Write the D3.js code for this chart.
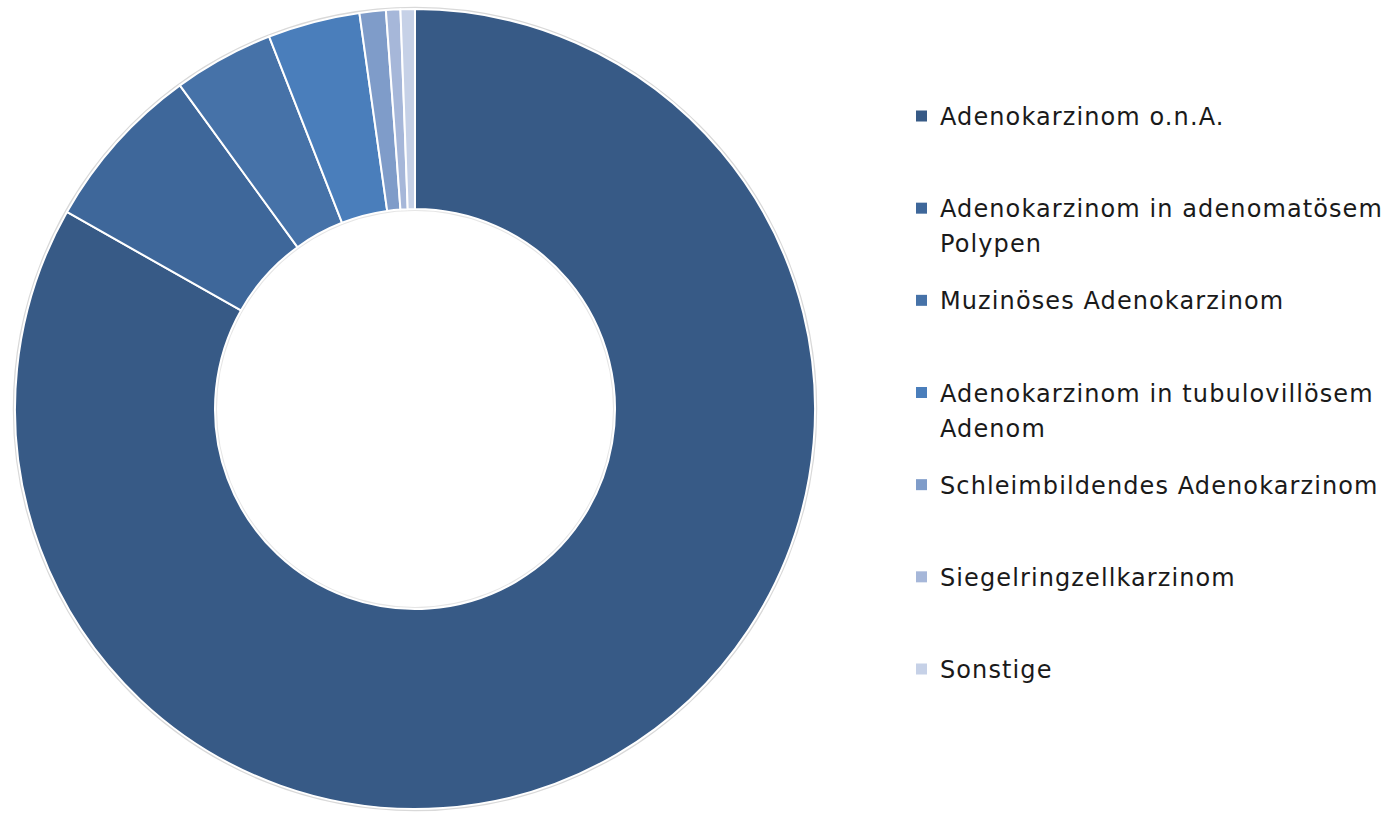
<!DOCTYPE html>
<html>
<head>
<meta charset="utf-8">
<script src="https://cdn.jsdelivr.net/npm/d3@7"></script>
<style>
  body { margin: 0; background: #fff; }
  svg { display: block; }
  .legend text { font-family: 'DejaVu Sans', sans-serif; font-size: 24px; letter-spacing: 1.1px; fill: #1a1a1a; }
</style>
</head>
<body>
<svg id="chart" width="1388" height="813"></svg>
<script>
// chart data (share in %)
const categories = [
    'Adenokarzinom o.n.A.',
    'Adenokarzinom in adenomatösem Polypen',
    'Muzinöses Adenokarzinom',
    'Adenokarzinom in tubulovillösem Adenom',
    'Schleimbildendes Adenokarzinom',
    'Siegelringzellkarzinom',
    'Sonstige'
];
const values = [83.2, 6.8, 4.06, 3.72, 1.06, 0.58, 0.58];
// legend labels as they wrap in the original
const legendLines = [
    ['Adenokarzinom o.n.A.'],
    ['Adenokarzinom in adenomatösem', 'Polypen'],
    ['Muzinöses Adenokarzinom'],
    ['Adenokarzinom in tubulovillösem', 'Adenom'],
    ['Schleimbildendes Adenokarzinom'],
    ['Siegelringzellkarzinom'],
    ['Sonstige']
];
const colors = ['#375a86', '#3e679a', '#4672a8', '#4a7ebb', '#7f9cc9', '#a6b7d9', '#c6d1e7'];

const svg = d3.select('#chart');

const cx = 415, cy = 409;
const outerR = 400, innerR = 200;

const color = d3.scaleOrdinal()
    .domain(categories)
    .range(colors);

const pie = d3.pie()
    .sort(null)
    .value(d => d.value);

const arc = d3.arc()
    .innerRadius(innerR)
    .outerRadius(outerR);

const data = categories.map((c, i) => ({name: c, value: values[i]}));

const group = svg.append('g')
    .attr('transform', 'translate(' + cx + ',' + cy + ')');

// soft edge round the ring
group.append('circle')
    .attr('r', outerR + 1)
    .attr('fill', 'none')
    .attr('stroke', '#d9d9d9')
    .attr('stroke-width', 2.5);
group.append('circle')
    .attr('r', innerR - 1)
    .attr('fill', 'none')
    .attr('stroke', '#e6e6e6')
    .attr('stroke-width', 2);

group.selectAll('path.slice')
    .data(pie(data))
    .enter()
    .append('path')
    .attr('class', 'slice')
    .attr('d', arc)
    .attr('fill', d => color(d.data.name))
    .attr('stroke', '#fff')
    .attr('stroke-width', 2)
    .attr('stroke-linejoin', 'round');

// legend
const legendY = d3.scaleLinear()
    .domain([0, categories.length - 1])
    .range([116, 669]);

const legend = svg.append('g')
    .attr('class', 'legend')
    .selectAll('g')
    .data(data)
    .enter()
    .append('g')
    .attr('transform', (d, i) => 'translate(916,' + legendY(i) + ')');

legend.append('rect')
    .attr('x', 0)
    .attr('y', -5.5)
    .attr('width', 11)
    .attr('height', 11)
    .attr('fill', d => color(d.name));

legend.append('text')
    .attr('x', 24)
    .attr('y', 9)
    .each(function (d, i) {
        const t = d3.select(this);
        legendLines[i].forEach((line, j) => {
            t.append('tspan')
                .attr('x', 24)
                .attr('dy', j === 0 ? 0 : 35)
                .text(line);
        });
    });
</script>
</body>
</html>
